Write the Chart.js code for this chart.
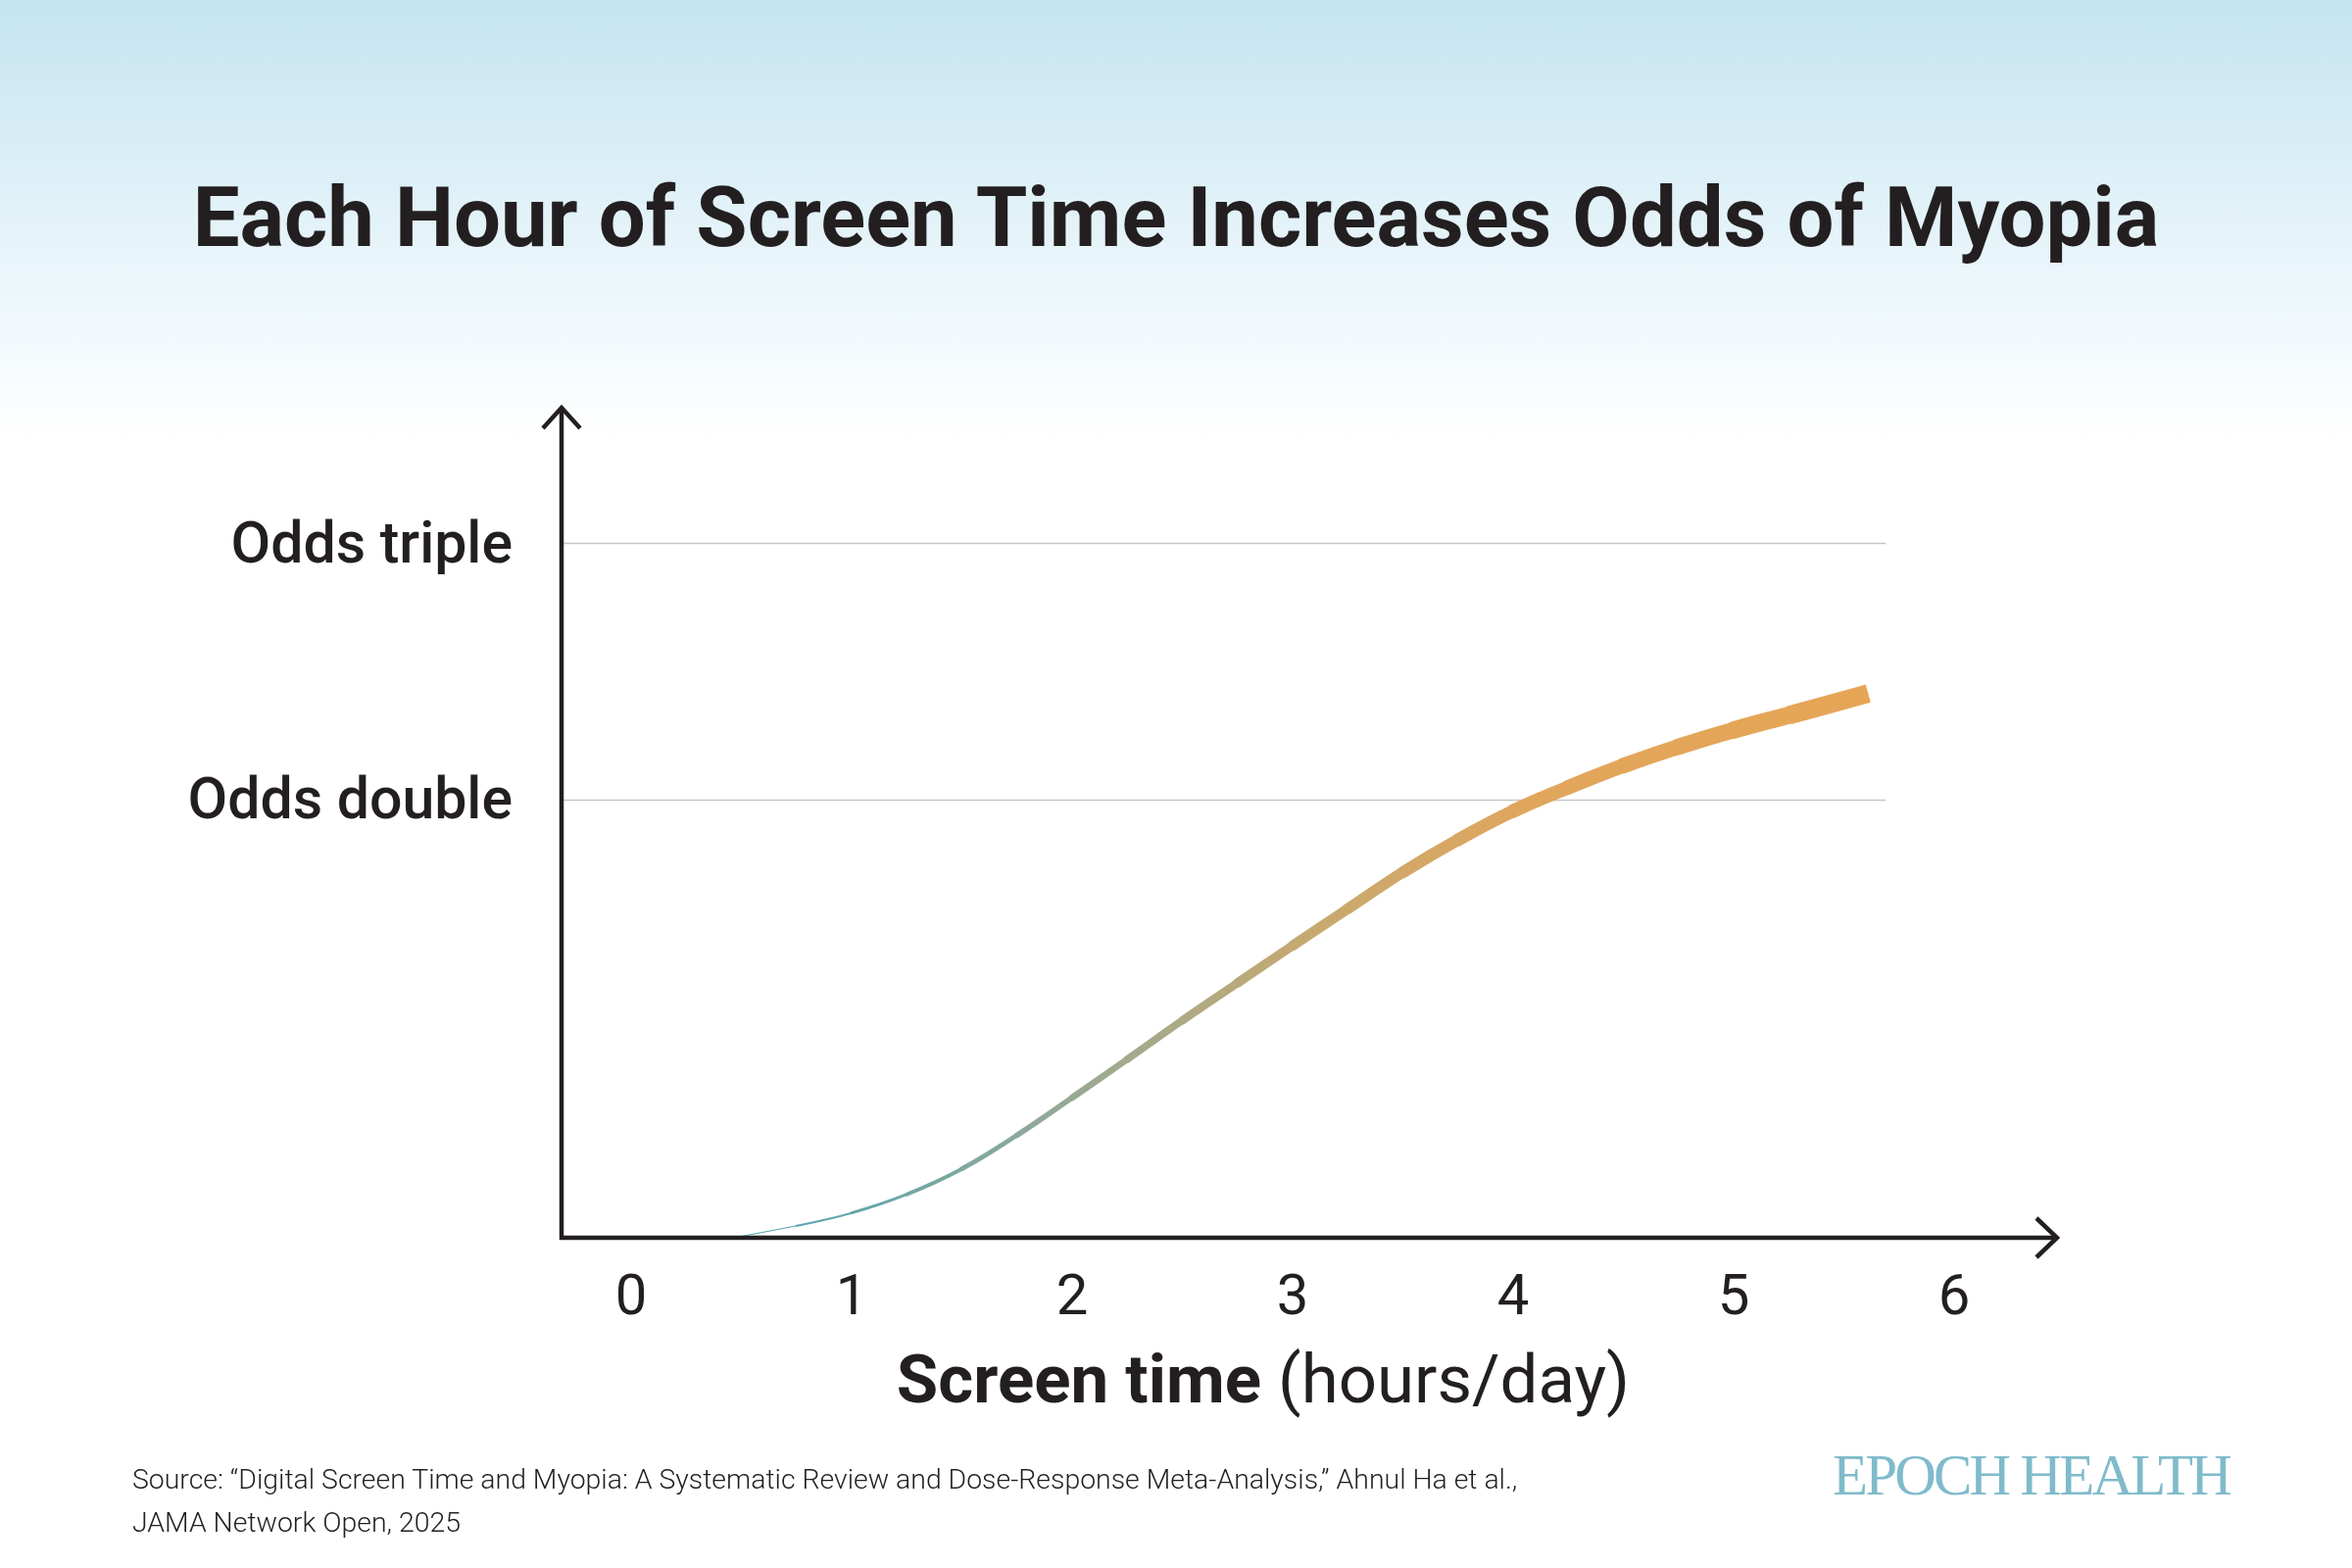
<!DOCTYPE html>
<html>
<head>
<meta charset="utf-8">
<title>Each Hour of Screen Time Increases Odds of Myopia</title>
<script src="https://cdn.jsdelivr.net/npm/chart.js@4.4.1/dist/chart.umd.min.js"></script>
<style>
    html, body {
        margin: 0;
        padding: 0;
    }
    body {
        width: 2400px;
        height: 1600px;
        position: relative;
        overflow: hidden;
        font-family: Roboto, "Noto Sans", sans-serif;
        color: #231f20;
        background: linear-gradient(to bottom, #c4e4f1 0px, #e4f3f9 230px, #f8fcfe 390px, #ffffff 450px);
    }
    #chartBox {
        position: absolute;
        left: 0;
        top: 0;
        width: 2400px;
        height: 1600px;
    }
    .title {
        position: absolute;
        left: 0;
        top: 180px;
        width: 2400px;
        text-align: center;
        font-weight: 700;
        font-size: 85px;
        line-height: 1;
        letter-spacing: 0;
        white-space: nowrap;
    }
    .xTitle {
        position: absolute;
        left: 1289px;
        top: 1373px;
        transform: translateX(-50%);
        font-size: 69px;
        line-height: 1;
        white-space: nowrap;
    }
    .xTitle b {
        font-weight: 700;
    }
    .source {
        position: absolute;
        left: 135px;
        top: 1488px;
        font-weight: 300;
        font-size: 28.4px;
        line-height: 44px;
    }
    .logo {
        position: absolute;
        left: 1870px;
        top: 1476px;
        font-family: "Liberation Serif", "DejaVu Serif", serif;
        font-size: 59px;
        line-height: 1;
        letter-spacing: -2.8px;
        color: #7fbbcb;
        white-space: nowrap;
    }
</style>
</head>
<body>
<div class="title">Each Hour of Screen Time Increases Odds of Myopia</div>
<div id="chartBox"><canvas id="myopiaChart"></canvas></div>
<div class="xTitle"><b>Screen time</b> (hours/day)</div>
<div class="source">Source: “Digital Screen Time and Myopia: A Systematic Review and Dose-Response Meta-Analysis,” Ahnul Ha et al.,<br>JAMA Network Open, 2025</div>
<div class="logo">EPOCH HEALTH</div>

<script>
// Data: screen time in hours/day vs odds ratio of myopia
const hours = [0.46, 0.75, 1.0, 1.25, 1.5, 1.75, 2.0, 2.25, 2.5, 2.75, 3.0, 3.25, 3.5, 3.75, 4.0, 4.25, 4.5, 4.75, 5.0, 5.25, 5.61];
const oddsRatio = [1.000, 1.019, 1.040, 1.071, 1.115, 1.176, 1.248, 1.326, 1.410, 1.496, 1.587, 1.682, 1.782, 1.876, 1.963, 2.038, 2.109, 2.173, 2.231, 2.284, 2.364];

// Axis ticks
const xTicks = [0, 1, 2, 3, 4, 5, 6];
const yTicks = [2, 3];
const yTickLabels = ['Odds double', 'Odds triple'];
const gridEnd = 5.69;

const inkColor = '#231f20';

// Colour ramp along the curve, teal to orange
function curveGradient(context) {
    const chart = context.chart;
    const area = chart.chartArea;
    if (!area) return '#e6a557';
    const x0 = chart.scales.x.getPixelForValue(hours[0]);
    const x1 = chart.scales.x.getPixelForValue(hours[hours.length - 1]);
    const g = chart.ctx.createLinearGradient(x0, 0, x1, 0);
    g.addColorStop(0, '#4aa3b5');
    g.addColorStop(0.3, '#98a996');
    g.addColorStop(0.5, '#c5a971');
    g.addColorStop(0.7, '#e0a65c');
    g.addColorStop(1, '#e7a556');
    return g;
}

// Stroke gets thicker with screen time
function segmentWidth(ctx) {
    const mid = (ctx.p0.parsed.x + ctx.p1.parsed.x) / 2;
    return Math.max(1, 3.7 * mid - 1.2);
}

function segmentCap(ctx) {
    return ctx.p1DataIndex === hours.length - 1 ? 'butt' : 'round';
}

// Grid lines that stop short of the arrow, and the arrowed axes
const axesPlugin = {
    id: 'arrowAxes',
    beforeDatasetsDraw(chart) {
        const { ctx, chartArea, scales } = chart;
        const xEnd = scales.x.getPixelForValue(gridEnd);
        ctx.save();
        ctx.strokeStyle = '#c6c6c6';
        ctx.lineWidth = 1.5;
        yTicks.forEach((v) => {
            const y = Math.round(scales.y.getPixelForValue(v)) + 0.5;
            ctx.beginPath();
            ctx.moveTo(chartArea.left, y);
            ctx.lineTo(xEnd, y);
            ctx.stroke();
        });
        ctx.restore();
    },
    afterDatasetsDraw(chart) {
        const { ctx, chartArea } = chart;
        const l = chartArea.left;
        const b = chartArea.bottom;
        const t = chartArea.top;
        const r = chartArea.right;
        ctx.save();
        ctx.strokeStyle = inkColor;
        ctx.lineWidth = 4.5;
        ctx.lineCap = 'butt';
        ctx.lineJoin = 'miter';
        // y axis
        ctx.beginPath();
        ctx.moveTo(l, b + 2);
        ctx.lineTo(l, t + 2);
        ctx.stroke();
        ctx.beginPath();
        ctx.moveTo(l - 19, t + 22);
        ctx.lineTo(l, t + 1);
        ctx.lineTo(l + 19, t + 22);
        ctx.stroke();
        // x axis
        ctx.beginPath();
        ctx.moveTo(l - 2, b);
        ctx.lineTo(r - 2, b);
        ctx.stroke();
        ctx.beginPath();
        ctx.moveTo(r - 22, b - 20);
        ctx.lineTo(r - 1, b);
        ctx.lineTo(r - 22, b + 20);
        ctx.stroke();
        ctx.restore();
    }
};

function setupChart() {
    const ctx = document.getElementById('myopiaChart').getContext('2d');
    new Chart(ctx, {
        type: 'line',
        data: {
            datasets: [{
                label: 'Odds ratio',
                data: hours.map((h, i) => ({ x: h, y: oddsRatio[i] })),
                borderColor: curveGradient,
                borderWidth: 2,
                tension: 0.4,
                pointRadius: 0,
                fill: false,
                segment: {
                    borderWidth: segmentWidth,
                    borderCapStyle: segmentCap
                }
            }]
        },
        options: {
            responsive: true,
            maintainAspectRatio: false,
            animation: false,
            layout: {
                padding: { left: 73, right: 300, top: 415, bottom: 137 }
            },
            plugins: {
                legend: { display: false },
                tooltip: { enabled: false }
            },
            scales: {
                x: {
                    type: 'linear',
                    min: -0.316,
                    max: 6.471,
                    afterBuildTicks: (scale) => {
                        scale.ticks = xTicks.map((v) => ({ value: v }));
                    },
                    afterFit: (scale) => {
                        scale.height = 200;
                    },
                    grid: { display: false, drawTicks: false },
                    border: { display: false },
                    ticks: {
                        color: inkColor,
                        padding: 29,
                        maxRotation: 0,
                        font: { family: 'Roboto', size: 58, weight: '400' },
                        callback: (value) => String(value)
                    }
                },
                y: {
                    type: 'logarithmic',
                    min: 1,
                    max: 3.72,
                    afterBuildTicks: (scale) => {
                        scale.ticks = yTicks.map((v) => ({ value: v }));
                    },
                    afterFit: (scale) => {
                        scale.width = 500;
                    },
                    grid: { display: false, drawTicks: false },
                    border: { display: false },
                    ticks: {
                        color: inkColor,
                        padding: 50,
                        labelOffset: 5,
                        font: { family: 'Roboto', size: 59, weight: '500' },
                        callback: (value, index) => yTickLabels[index]
                    }
                }
            }
        },
        plugins: [axesPlugin]
    });
}

document.addEventListener('DOMContentLoaded', setupChart);
</script>
</body>
</html>
